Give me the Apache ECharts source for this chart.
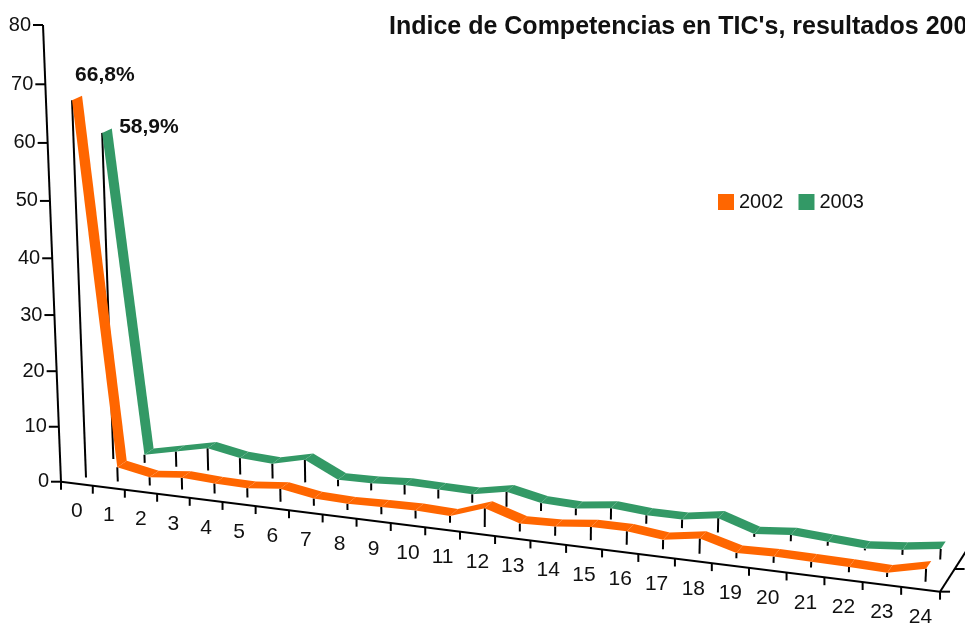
<!DOCTYPE html>
<html><head><meta charset="utf-8">
<script src="https://cdn.jsdelivr.net/npm/echarts@6/dist/echarts.min.js"></script>
<style>html,body{margin:0;padding:0;background:#fff}#c{width:965px;height:623px}</style>
</head><body><div id="c"></div>
<script>
// ---------- data ----------
const categories = ['0','1','2','3','4','5','6','7','8','9','10','11','12','13','14','15','16','17','18','19','20','21','22','23','24'];
const yTicks = [0, 10, 20, 30, 40, 50, 60, 70, 80];
const seriesNames = ['2002', '2003'];
const values2002 = [66.8, 2.6, 1.5, 2.1, 1.8, 1.7, 2.3, 1.3, 1.1, 1.3, 1.4, 1.2, 3.3, 1.4, 1.6, 2.3, 2.3, 1.6, 2.6, 0.9, 1.1, 1.0, 0.9, 0.7, 2.2];
const values2003 = [58.9, 1.5, 2.8, 4.1, 3.0, 2.7, 4.1, 1.2, 1.3, 1.7, 1.6, 1.5, 2.7, 1.4, 1.2, 2.0, 1.5, 1.5, 2.5, 0.5, 1.1, 0.7, 0.3, 0.9, 1.8];
const peakLabels = ['66,8%', '58,9%'];
const titleText = "Indice de Competencias en TIC's, resultados 2002-2003";

// ---------- style / projection ----------
const COLORS = ['#FF6600', '#339966'];
const FONT = '"Liberation Sans", Arial, sans-serif';
const NARROW = '"Liberation Sans Narrow", "Arial Narrow", "Liberation Sans", sans-serif';
const X_MAX = categories.length, Y_MAX = yTicks[yTicks.length - 1];
const GRID = {left: 0, top: 0, width: 250, height: 400};
const PR = {a: 31.42, b: -0.2478, k: 9.6, c: 61, d: 2.044, e: -5.722, l: -3.5, f: 481.7, g: -0.00398, h: -0.00053, m: 0.00556};
const SLOT = 3.06, RIB = 1.06;
const zFront = s => s * SLOT + (SLOT - RIB) / 2;

function project(X, Y, Z) {
  const w = 1 + PR.g * X + PR.h * Y + PR.m * Z;
  return [(PR.a * X + PR.b * Y + PR.k * Z + PR.c) / w, (PR.d * X + PR.e * Y + PR.l * Z + PR.f) / w];
}
function toWorld(api, x, y) {
  const p = api.coord([x, y]);
  return [(p[0] - GRID.left) / GRID.width * X_MAX, (GRID.top + GRID.height - p[1]) / GRID.height * Y_MAX];
}
function pt(api, x, y, z) { const w = toWorld(api, x, y); return project(w[0], w[1], z); }
function seg(a, b, width) {
  return {type: 'line', shape: {x1: a[0], y1: a[1], x2: b[0], y2: b[1]}, style: {stroke: '#000', lineWidth: width || 2}};
}

function ribbonSeries(s, vals, z) {
  const data = vals.slice(0, -1).map((v, i) => [i + 0.5, v, i + 1.5, vals[i + 1]]);
  return {
    type: 'custom', name: seriesNames[s], coordinateSystem: 'cartesian2d', clip: false, z: z,
    itemStyle: {color: COLORS[s]}, encode: {x: [0, 2], y: [1, 3]}, data: data,
    renderItem(params, api) {
      const x0 = api.value(0), y0 = api.value(1), x1 = api.value(2), y1 = api.value(3);
      const zf = zFront(s), zb = zf + RIB;
      return {type: 'polygon', shape: {points: [pt(api, x0, y0, zf), pt(api, x1, y1, zf), pt(api, x1, y1, zb), pt(api, x0, y0, zb)]},
        style: {fill: COLORS[s]}};
    }
  };
}
function dropSeries(s, vals, z) {
  return {
    type: 'custom', name: seriesNames[s] + ' drop', coordinateSystem: 'cartesian2d', clip: false, z: z,
    data: vals.map((v, i) => [i + 0.5, v]),
    renderItem(params, api) {
      const x = api.value(0), v = api.value(1), zf = zFront(s);
      return seg(pt(api, x, v, zf), pt(api, x, 0, zf), 2);
    }
  };
}
const labelOffsets = [[3, -25], [17, -6]];
const labelSeries = {
  type: 'custom', name: 'peak labels', coordinateSystem: 'cartesian2d', clip: false, z: 10,
  data: [[0.5, values2002[0], 0], [0.5, values2003[0], 1]],
  renderItem(params, api) {
    const s = api.value(2);
    const p = pt(api, api.value(0), api.value(1), zFront(s));
    return {type: 'text', style: {text: peakLabels[s], x: p[0] + labelOffsets[s][0], y: p[1] + labelOffsets[s][1],
      fill: '#111', fontSize: 21, fontWeight: 'bold', fontFamily: FONT, align: 'left', verticalAlign: 'middle'}};
  }
};
const yAxisSeries = {
  type: 'custom', name: 'y axis', coordinateSystem: 'cartesian2d', clip: false, z: 8,
  data: yTicks.map(v => [0, v]),
  renderItem(params, api) {
    const p = pt(api, 0, api.value(1), 0);
    return {type: 'group', children: [
      seg([p[0] - 10, p[1]], p, 2),
      {type: 'text', style: {text: String(api.value(1)), x: p[0] - 12, y: p[1], fill: '#111', fontSize: 20, fontFamily: NARROW, align: 'right', verticalAlign: 'middle'}}
    ]};
  }
};
const xAxisSeries = {
  type: 'custom', name: 'x axis', coordinateSystem: 'cartesian2d', clip: false, z: 8,
  data: categories.concat(['']).map((c, i) => [i, 0]),
  renderItem(params, api) {
    const i = params.dataIndex;
    const t = pt(api, api.value(0), 0, 0);
    const children = [seg(t, [t[0], t[1] + 8], 2)];
    if (i < categories.length) {
      const c = pt(api, api.value(0) + 0.5, 0, 0);
      children.push({type: 'text', style: {text: categories[i], x: c[0], y: c[1] + 28, fill: '#111', fontSize: 21, fontFamily: NARROW, align: 'center', verticalAlign: 'middle'}});
    }
    return {type: 'group', children: children};
  }
};
const axisLineSeries = {
  type: 'custom', name: 'axis lines', coordinateSystem: 'cartesian2d', clip: false, z: 7,
  data: [[0, 0]],
  renderItem(params, api) {
    const o = pt(api, 0, 0, 0), xe = pt(api, X_MAX, 0, 0), ye = pt(api, 0, Y_MAX, 0);
    const children = [seg(o, xe, 2), seg(o, ye, 2), seg(xe, pt(api, X_MAX, 0, 2 * SLOT), 2)];
    [0, SLOT, 2 * SLOT].forEach(z => { const q = pt(api, X_MAX, 0, z); children.push(seg(q, [q[0] + 10, q[1]], 2)); });
    return {type: 'group', children: children};
  }
};

const chart = echarts.init(document.getElementById('c'), null, {renderer: 'canvas'});
chart.setOption({
  animation: false,
  backgroundColor: '#fff',
  title: {text: titleText, left: 389, top: 15, padding: 0,
    textStyle: {fontSize: 25, fontWeight: 'bold', fontFamily: FONT, color: '#111'}},
  legend: {data: seriesNames, left: 718, top: 192, icon: 'rect', itemWidth: 16, itemHeight: 16, itemGap: 15, padding: 0,
    textStyle: {fontSize: 20, fontFamily: FONT, color: '#111'}},
  grid: Object.assign({show: false}, GRID),
  xAxis: {type: 'value', min: 0, max: X_MAX, show: false},
  yAxis: {type: 'value', min: 0, max: Y_MAX, show: false},
  series: [
    axisLineSeries, xAxisSeries, yAxisSeries,
    dropSeries(1, values2003, 1), ribbonSeries(1, values2003, 2),
    dropSeries(0, values2002, 3), ribbonSeries(0, values2002, 4),
    labelSeries
  ]
});
</script></body></html>
